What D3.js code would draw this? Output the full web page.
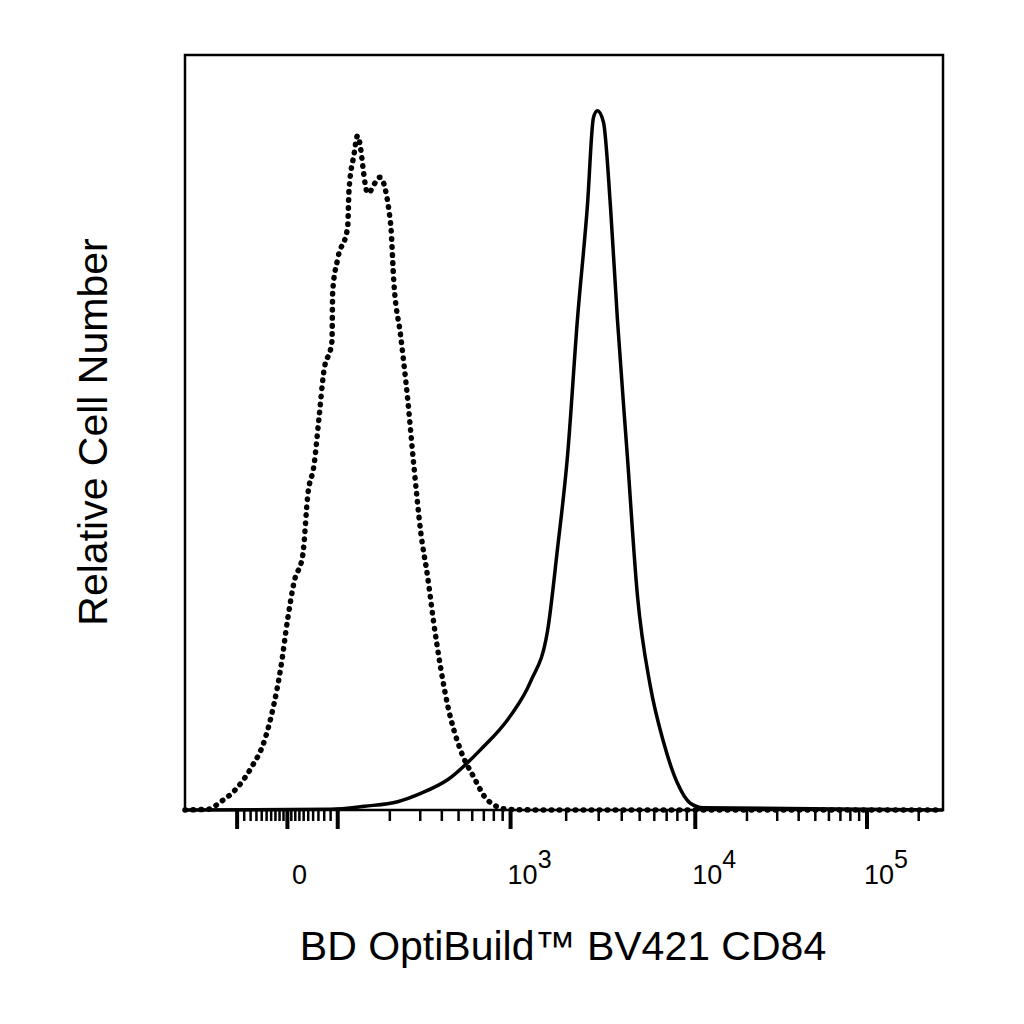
<!DOCTYPE html>
<html>
<head>
<script src="https://d3js.org/d3.v7.min.js"></script>
<style>body{margin:0;background:#fff}</style>
</head>
<body>
<svg width="1024" height="1024"></svg>
<script>
// isotype control (dotted) - fluorescence value / relative count
var isoX = [-200,-147,-124,-104,-79,-55,-34,-17,1,17,38,49,62,71,79,92,93,100,114,116,124,130,149,175,202,211,231,254,275,302,331,359,394,432,514,611,736,961,1500,277000];
var isoY = [0,0.1,1.1,2.5,5.6,9.1,13.9,18.8,25.4,30.2,33.8,41.7,45.8,51.9,57.9,62.1,68.7,73,77.2,82,86.8,89.3,81.7,83.8,77.7,69.9,62.8,54.3,45.8,36.8,30.9,24.8,18.8,13.9,7.9,4.4,1.3,0.1,0,0];
// stained cells (solid)
var cd84X = [-200,90,143,222,302,432,671,1000,1283,1585,1795,2032,2302,2607,2810,2953,3184,3470,3788,4290,4858,5710,6714,7990,9400,11130,277000];
var cd84Y = [0,0.1,0.5,1.1,2.2,4.0,8.0,12.5,17,23.7,34.6,46.8,65,80.1,91.7,92.6,91.1,80.1,65,46.8,28.5,16.4,9.1,3.6,0.9,0.3,0];

var majorTicks = [-100,0,100,1000,10000,100000];
var minorTicks = [-90,-80,-70,-60,-50,-40,-30,-20,-10,10,20,30,40,50,60,70,80,90,
  200,300,400,500,600,700,800,900,2000,3000,4000,5000,6000,7000,8000,9000,
  20000,30000,40000,50000,60000,70000,80000,90000,200000];
var tickLabels = [{v:0,b:"0",e:""},{v:1000,b:"10",e:"3"},{v:10000,b:"10",e:"4"},{v:100000,b:"10",e:"5"}];

// biexponential-like display transform (linear-ish core, log decades above 100)
var decadeWidth = [173, 185, 172, 172];
function biex(v){
  var a = Math.abs(v), s = v < 0 ? -1 : 1;
  if (a <= 100) return 30.7*Math.sinh(v/78.7);
  var d = Math.log10(a/100), pos = 50.5, k = 0;
  while (d > 0) { var step = Math.min(d, 1); pos += step*decadeWidth[Math.min(k,3)]; d -= step; k++; }
  return s*pos;
}
var pLeft = 185, pRight = 943, pTop = 55, pBottom = 810;
var xl = d3.scaleLinear().domain([biex(-200), biex(277000)]).range([pLeft, pRight]);
var x = function(v){ return xl(biex(v)); };
var y = d3.scaleLinear().domain([0,100]).range([pBottom, pTop]);

var svg = d3.select("svg");
var font = "'Liberation Sans', Arial, sans-serif";

function curve(xs, ys){
  return d3.line().x(function(d){return x(d);}).y(function(d,i){return y(ys[i]);}).curve(d3.curveMonotoneX)(xs);
}
svg.append("path").attr("d", curve(isoX, isoY))
  .attr("fill","none").attr("stroke","#000").attr("stroke-width",5.5)
  .attr("stroke-linecap","round").attr("stroke-dasharray","0.5,7.5");
svg.append("path").attr("d", curve(cd84X, cd84Y))
  .attr("fill","none").attr("stroke","#000").attr("stroke-width",3.5);

svg.append("rect").attr("x",pLeft).attr("y",pTop).attr("width",pRight-pLeft).attr("height",pBottom-pTop)
  .attr("fill","none").attr("stroke","#000").attr("stroke-width",2.5);

svg.selectAll(".minor").data(minorTicks).enter().append("line")
  .attr("x1",function(d){return x(d);}).attr("x2",function(d){return x(d);})
  .attr("y1",pBottom).attr("y2",pBottom+11).attr("stroke","#000").attr("stroke-width",2.5);
svg.selectAll(".major").data(majorTicks).enter().append("line")
  .attr("x1",function(d){return x(d);}).attr("x2",function(d){return x(d);})
  .attr("y1",pBottom).attr("y2",pBottom+19).attr("stroke","#000").attr("stroke-width",4);

var lab = svg.selectAll(".tl").data(tickLabels).enter().append("text")
  .attr("x",function(d){return x(d.v) + (d.v===0?12:19);}).attr("y",884)
  .attr("text-anchor","middle").attr("font-family",font).attr("font-size",27);
lab.append("tspan").text(function(d){return d.b;});
lab.append("tspan").attr("dy",-16).attr("font-size",25).text(function(d){return d.e;});

svg.append("text").attr("x",563).attr("y",960).attr("text-anchor","middle")
  .attr("font-family",font).attr("font-size",41).text("BD OptiBuild™ BV421 CD84");
svg.append("text").attr("transform","translate(107,432) rotate(-90)").attr("text-anchor","middle")
  .attr("font-family",font).attr("font-size",41).text("Relative Cell Number");
</script>
</body>
</html>
